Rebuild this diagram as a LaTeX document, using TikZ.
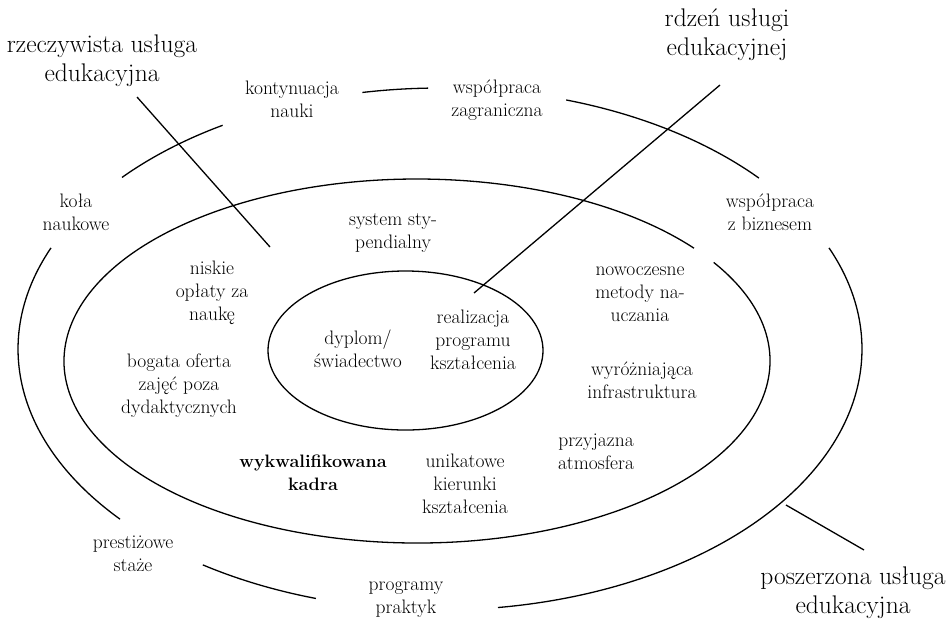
\documentclass[tikz,border=0pt]{standalone}
\usetikzlibrary{positioning}

\begin{document}
\begin{tikzpicture}[
x=1pt, y=-1pt,
  etyk/.style = {align=center, inner sep=0pt, font=\fontsize{19.5}{23}\selectfont},
 tytul/.style = {align=center, inner sep=0pt, font=\fontsize{25.5}{29}\selectfont},
   lin/.style = {black, line width=1.3pt}
                    ]
\useasboundingbox (0,0) rectangle (952,622);

% ellipses
\draw[lin] (405.5,350.5) ellipse [x radius=137.5, y radius=79.5];
\draw[lin] (417,361) ++(327.2:353 and 182) arc[start angle=327.2, end angle=681.7, x radius=353, y radius=182];
\draw[lin] (440,349) ++(221.1:422 and 261) arc[start angle=221.1, end angle=239, x radius=422, y radius=261];
\draw[lin] (440,349) ++(259.4:422 and 261) arc[start angle=259.4, end angle=268.4, x radius=422, y radius=261];
\draw[lin] (440,349) ++(287.4:422 and 261) arc[start angle=287.4, end angle=319.1, x radius=422, y radius=261];
\draw[lin] (440,349) ++(337.2:422 and 261) arc[start angle=337.2, end angle=442.1, x radius=422, y radius=261];
\draw[lin] (440,349) ++(107.1:422 and 261) arc[start angle=107.1, end angle=124.2, x radius=422, y radius=261];
\draw[lin] (440,349) ++(139.3:422 and 261) arc[start angle=139.3, end angle=202.8, x radius=422, y radius=261];

%nodes
\node[tytul] (rzecz) at (102,61) {rzeczywista usługa\\edukacyjna};
\node[tytul] (rdzen) at (727,35) {rdzeń usługi\\edukacyjnej};
\node[tytul] (posz) at (853,593) {poszerzona usługa\\edukacyjna};

\node[etyk] (kont) at (292,99) {kontynuacja\\nauki};
\node[etyk] (wspZagr) at (497,100) {współpraca\\zagraniczna};
\node[etyk] (kola) at (76,212) {koła\\naukowe};
\node[etyk] (wspBiz) at (770,212) {współpraca\\z biznesem};
\node[etyk] (stypend) at (393,233) {system sty-\\pendialny};
\node[etyk] (oplaty) at (212,293) {niskie\\opłaty za\\naukę};
\node[etyk] (oferta) at (179,386) {bogata oferta\\zajęć poza\\dydaktycznych};
\node[etyk] (dyplom) at (358,349) {dyplom/\\świadectwo};
\node[etyk] (program) at (473,340) {realizacja\\programu\\kształcenia};
\node[etyk] (metody) at (640,294) {nowoczesne\\metody na-\\uczania};
\node[etyk] (infra) at (642,380) {wyróżniająca\\infrastruktura};
\node[etyk] (atmos) at (596,452) {przyjazna\\atmosfera};
\node[etyk, font=\fontsize{18}{23}\selectfont\bfseries] (kadra) at (313,473) {wykwalifikowana\\kadra};
\node[etyk] (kierunki) at (465,484) {unikatowe\\kierunki\\kształcenia};
\node[etyk] (staze) at (133,554) {prestiżowe\\staże};
\node[etyk] (praktyki) at (406,600) {programy\\praktyk};

\coordinate (rzeczA) at (137,97);
\coordinate (rzeczB) at (270,247);
\coordinate (rdzenA) at (720,85);
\coordinate (rdzenB) at (474,293);
\coordinate (poszA) at (864,550);
\coordinate (poszB) at (786,505);

% edges
\draw[lin] (rzeczA) -- (rzeczB)
(rdzenA) -- (rdzenB)
(poszA) -- (poszB);
\end{tikzpicture}
\end{document}
